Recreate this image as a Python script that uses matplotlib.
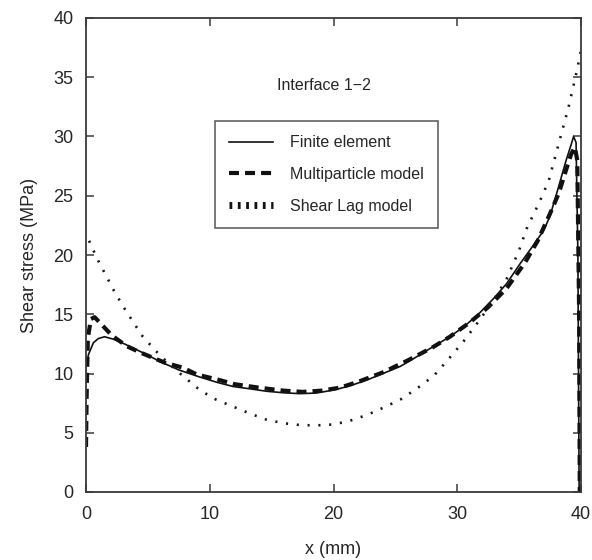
import matplotlib
matplotlib.use("Agg")
import matplotlib.pyplot as plt
from matplotlib import font_manager
from matplotlib.lines import Line2D

# ---- data ----
fe_x = [0.0, 0.2, 0.6, 1.0, 1.5, 2.2, 3.1, 4.5, 6.0, 7.5, 9.2, 10.6, 11.9, 13.3, 14.6, 16.0, 17.3, 18.6, 20.0, 21.3, 22.7, 24.0, 25.4, 26.7, 28.1, 29.4, 30.6, 31.8, 33.0, 34.0, 35.1, 36.0, 37.0, 37.5, 38.2, 38.8, 39.2, 39.4, 39.6, 39.75, 39.85]
fe_y = [10.5, 11.6, 12.6, 12.95, 13.1, 12.9, 12.5, 11.8, 11.0, 10.3, 9.7, 9.25, 8.9, 8.7, 8.5, 8.37, 8.3, 8.35, 8.6, 8.95, 9.45, 10.0, 10.6, 11.4, 12.3, 13.1, 14.0, 15.1, 16.4, 17.6, 19.3, 20.6, 22.1, 23.3, 25.8, 28.0, 29.3, 30.0, 29.5, 20.0, 0.0]

mp_x = [0.0, 0.05, 0.15, 0.4, 0.7, 1.2, 2.1, 3.3, 4.55, 6.4, 7.8, 9.0, 10.6, 12.0, 14.0, 16.0, 17.5, 19.0, 20.5, 22.0, 24.0, 26.0, 28.0, 29.4, 31.0, 32.5, 34.0, 35.5, 36.5, 37.5, 38.2, 38.8, 39.2, 39.5, 39.7, 39.85, 39.9]
mp_y = [3.8, 8.0, 13.0, 14.6, 14.75, 14.2, 13.2, 12.3, 11.7, 10.9, 10.5, 9.9, 9.5, 9.1, 8.8, 8.55, 8.45, 8.55, 8.8, 9.3, 10.1, 11.1, 12.2, 13.1, 14.3, 15.6, 17.2, 19.4, 21.2, 23.5, 25.2, 27.2, 28.5, 29.1, 28.0, 15.0, 0.0]

sl_x = [0.25, 0.9, 1.6, 2.3, 3.1, 3.9, 4.6, 6.0, 7.6, 9.2, 10.5, 11.9, 13.3, 14.6, 16.0, 17.3, 18.6, 20.0, 21.3, 22.7, 24.0, 25.4, 26.7, 28.1, 29.2, 30.5, 31.8, 33.0, 34.0, 35.0, 35.6, 36.7, 37.4, 38.2, 39.0, 39.7, 40.0]
sl_y = [21.2, 19.7, 18.3, 16.9, 15.5, 14.2, 13.1, 11.5, 10.0, 8.6, 7.8, 7.2, 6.6, 6.1, 5.8, 5.65, 5.62, 5.7, 6.0, 6.5, 7.1, 7.8, 8.7, 9.8, 11.1, 12.7, 14.5, 16.3, 18.0, 20.4, 22.2, 24.6, 26.3, 29.4, 32.5, 35.7, 37.3]

x_ticks = [0, 10, 20, 30, 40]
y_ticks = [0, 5, 10, 15, 20, 25, 30, 35, 40]
labels = ["Finite element", "Multiparticle model", "Shear Lag model"]
x_label = "x (mm)"
y_label = "Shear stress (MPa)"
annotation = "Interface 1\u22122"

# ---- fonts ----
names = {f.name for f in font_manager.fontManager.ttflist}
fam = [n for n in ["Liberation Sans Narrow", "Liberation Sans", "DejaVu Sans"] if n in names]
plt.rcParams["font.family"] = fam

TXT = "#262626"
SP = "#3a3a3a"

fig = plt.figure(figsize=(5.92, 5.60), dpi=100)
ax = fig.add_axes([86/592, 1-492/560, (581-86)/592, (492-18)/560])

ax.plot(fe_x, fe_y, color="#111111", lw=1.2, solid_joinstyle="round")
ax.plot(mp_x, mp_y, color="#111111", lw=3.0, dashes=(2.4, 1.45))
ax.plot(sl_x, sl_y, color="#1a1a1a", lw=1.9, dashes=(0.8, 3.3))

ax.set_xlim(0, 40)
ax.set_ylim(0, 40)
ax.set_xticks(x_ticks)
ax.set_yticks(y_ticks)
ax.tick_params(direction="in", length=6, width=1.1, color=SP, top=True, right=True,
               labelsize=13, labelcolor=TXT)
ax.tick_params(axis="x", pad=10)
ax.tick_params(axis="y", pad=9)
for s in ax.spines.values():
    s.set_color(SP)
    s.set_linewidth(1.3)

ax.set_xlabel(x_label, fontsize=13, color=TXT, labelpad=13)
ax.set_ylabel(y_label, fontsize=13, color=TXT, labelpad=11)

ax.text(19.2, 34.3, annotation, fontsize=11.5, color=TXT, ha="center", va="center")

handles = [
    Line2D([], [], color="#111111", lw=1.2),
    Line2D([], [], color="#111111", lw=3.0, dashes=(2.4, 1.45)),
    Line2D([], [], color="#111111", lw=5.0, dashes=(0.4, 0.8)),
]
leg = ax.legend(handles, labels, loc="upper left", bbox_to_anchor=(0.26, 0.783),
                borderaxespad=0, fontsize=11.5, frameon=True, fancybox=False,
                edgecolor=SP, handlelength=2.75, handletextpad=1.05, labelspacing=1.05,
                borderpad=0.9)
leg.get_frame().set_linewidth(1.2)
for t in leg.get_texts():
    t.set_color(TXT)

fig.savefig("out.png", dpi=100)
